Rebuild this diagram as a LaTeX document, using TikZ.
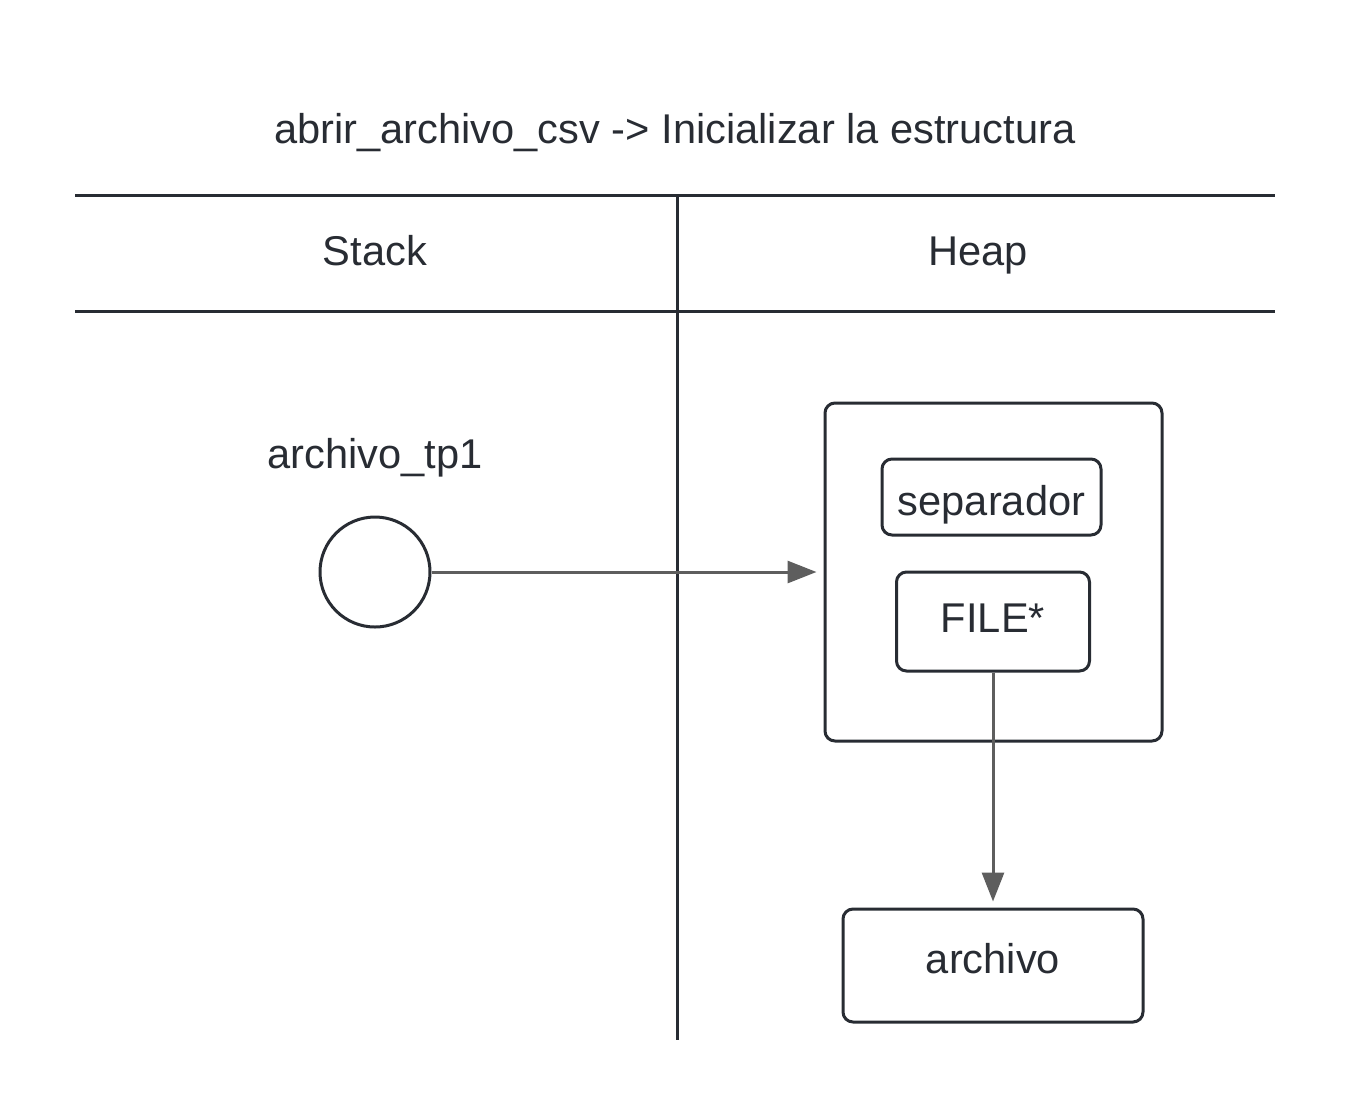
\documentclass[tikz,border=0pt]{standalone}
\usepackage{fontspec}
\setmainfont{Liberation Sans}
\usetikzlibrary{arrows.meta}

\definecolor{ink}{HTML}{282C33}
\definecolor{wire}{HTML}{5E5E5E}

\begin{document}
\begin{tikzpicture}[x=0.5pt, y=-0.5pt,
    every node/.style={text=ink, font=\fontsize{20.8}{25}\selectfont},
    txt/.style={anchor=base, inner sep=0pt},
    sep/.style={draw=ink, line width=1.5pt},
    cell/.style={draw=ink, line width=1.5pt, rounded corners=5pt, inner sep=0pt},
    ptr/.style={draw=wire, line width=1.5pt, -{Triangle[length=14.5pt, width=11pt]}}]

% Page frame
\useasboundingbox (0,0) rectangle (1350,1116);

% Parameters
\def\xMid{677}  % column divider
\def\xStk{375}  % stack column centre
\def\xHp{978}   % heap column centre
\def\xObj{993}  % heap objects centre

% Title
\node[txt] (title) at (675,143) {abrir\_archivo\_csv -> Inicializar la estructura};

% Header rows and divider
\draw[sep] (75,195) -- (1275,195);
\draw[sep] (75,311) -- (1275,311);
\draw[sep] (\xMid,197) -- (\xMid,1040);
\node[txt] (stack) at (\xStk,265) {Stack};
\node[txt] (heap) at (\xHp,265) {Heap};

% Stack variable
\node[txt] (varname) at (\xStk,468) {archivo\_tp1};
\node[circle, draw=ink, line width=1.5pt, minimum size=55pt, inner sep=0pt] (var) at (\xStk,572) {};

% Heap struct with its fields
\node[cell, minimum width=168.5pt, minimum height=169pt] (struct) at (993.5,572) {};
\node[cell, minimum width=109.5pt, minimum height=38pt] (sepbox) at (991.5,497) {};
\node[txt] (septext) at (991.5,515) {separador};
\node[cell, minimum width=96.5pt, minimum height=49.5pt] (filebox) at (\xObj,621.5) {};
\node[txt] (filetext) at (\xObj,632) {FILE*};

% File object
\node[cell, minimum width=150pt, minimum height=56.5pt] (obj) at (\xObj,965.5) {};
\node[txt] (objtext) at (\xObj,973) {archivo};

% Pointers
\draw[ptr] (var.east) -- ([xshift=-3.5pt]struct.west);
\draw[ptr] (filebox.south) -- ([yshift=3pt]obj.north);

\end{tikzpicture}
\end{document}
